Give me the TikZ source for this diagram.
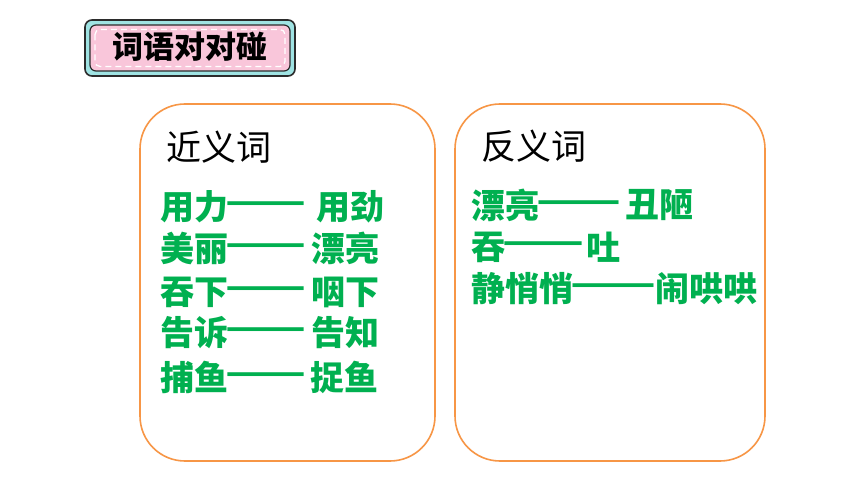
\documentclass[tikz,border=0pt]{standalone}
\usepackage{fontspec}
\usepackage{graphicx}
\setmainfont{Noto Sans CJK SC}
\definecolor{boxorange}{HTML}{F79646}
\definecolor{wgreen}{HTML}{00B050}
\definecolor{badgecyan}{HTML}{9FE3E3}
\definecolor{badgepink}{HTML}{F9C6DA}
\definecolor{badgeline}{HTML}{2B2B2B}
\newcommand{\wdash}[2]{\makebox[#1]{\raisebox{6pt}[0.5em][0pt]{\resizebox{#2}{\height}{——}}}}
\tikzset{
  panel/.style={draw=boxorange, line width=1.6pt, rounded corners=45pt, fill=white},
  head/.style={anchor=west, inner sep=0pt, font=\fontsize{35}{35}\selectfont, text=black},
  word/.style={anchor=west, inner sep=0pt, font=\fontsize{34}{34}\selectfont\bfseries, text=wgreen},
  dashtxt/.style={anchor=base west, inner sep=0pt, font=\fontsize{34}{34}\selectfont\bfseries, text=wgreen},
}
\begin{document}
\begin{tikzpicture}[x=1pt,y=-1pt]
\useasboundingbox (0,0) rectangle (860,484);
\fill[white] (0,0) rectangle (860,484);
% badge
\draw[badgeline, line width=1.6pt, fill=badgecyan, rounded corners=7pt] (85,20) rectangle (295,76);
\draw[badgeline, line width=1.2pt, fill=badgepink, rounded corners=6pt] (90,25) rectangle (290,71);
\draw[white, line width=1.3pt, dash pattern=on 6pt off 4pt, rounded corners=5pt] (95,29.5) rectangle (285,66.5);
\node[inner sep=0pt, font=\fontsize{31}{31}\selectfont\bfseries] (badge) at (190,47) {词语对对碰};
% panels
\draw[panel] (140,104) rectangle (435,461);
\draw[panel] (455,104) rectangle (765,461);
% synonyms
\node[head] (syn) at (166,147) {近义词};
\node[word] (l1a) at (160,207) {用力};
\node[dashtxt] (l1d) at (l1a.base east) {\wdash{74pt}{81pt}};
\node[word] (l1b) at (316,207) {用劲};
\node[word] (l2a) at (160,248) {美丽};
\node[dashtxt] (l2d) at (l2a.base east) {\wdash{74pt}{81pt}};
\node[word] (l2b) at (311,248) {漂亮};
\node[word] (l3a) at (160,292) {吞下};
\node[dashtxt] (l3d) at (l3a.base east) {\wdash{74pt}{81pt}};
\node[word] (l3b) at (311,292) {咽下};
\node[word] (l4a) at (160,333) {告诉};
\node[dashtxt] (l4d) at (l4a.base east) {\wdash{74pt}{81pt}};
\node[word] (l4b) at (311,333) {告知};
\node[word] (l5a) at (160,377) {捕鱼};
\node[dashtxt] (l5d) at (l5a.base east) {\wdash{74pt}{81pt}};
\node[word] (l5b) at (310,377) {捉鱼};
% antonyms
\node[head] (ant) at (481,146) {反义词};
\node[word] (r1a) at (471,205) {漂亮};
\node[dashtxt] (r1d) at (r1a.base east) {\wdash{78pt}{85pt}};
\node[word] (r1b) at (625,205) {丑陋};
\node[word] (r2a) at (471,247) {吞};
\node[dashtxt] (r2d) at (r2a.base east) {\wdash{75pt}{82pt}};
\node[word] (r2b) at (586,247) {吐};
\node[word] (r3a) at (471,289) {静悄悄};
\node[dashtxt] (r3d) at (r3a.base east) {\wdash{79pt}{86pt}};
\node[word] (r3b) at (655,289) {闹哄哄};
\end{tikzpicture}
\end{document}
